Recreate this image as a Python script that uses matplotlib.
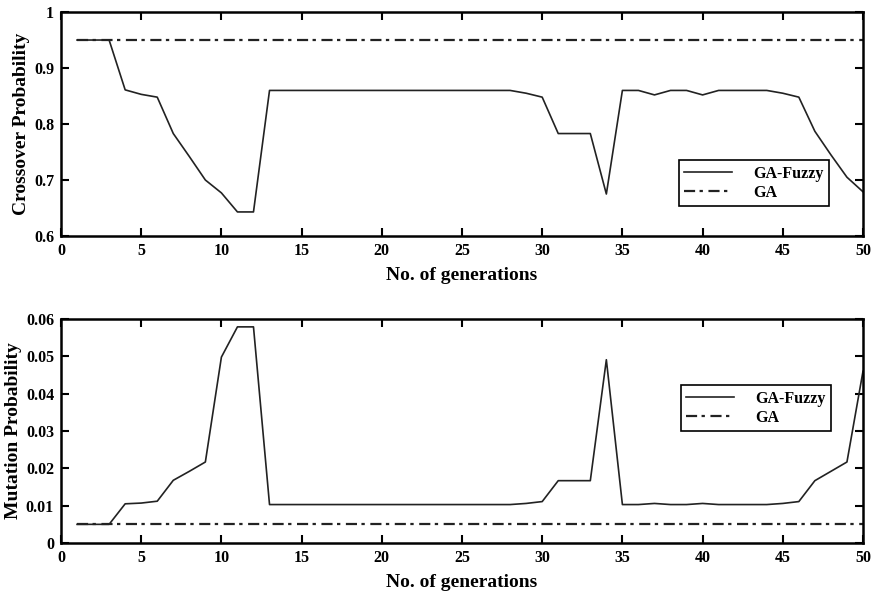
import matplotlib
matplotlib.use("Agg")
import matplotlib.pyplot as plt

generations = list(range(1, 51))
crossover_fuzzy = [0.95, 0.95, 0.95, 0.861, 0.853, 0.848, 0.783, 0.742, 0.70, 0.677,
                   0.643, 0.643, 0.86, 0.86, 0.86, 0.86, 0.86, 0.86, 0.86, 0.86,
                   0.86, 0.86, 0.86, 0.86, 0.86, 0.86, 0.86, 0.86, 0.855, 0.848,
                   0.783, 0.783, 0.783, 0.675, 0.86, 0.86, 0.852, 0.86, 0.86, 0.852,
                   0.86, 0.86, 0.86, 0.86, 0.855, 0.848, 0.787, 0.745, 0.705, 0.679]
crossover_ga = [0.95] * 50
mutation_fuzzy = [0.005, 0.005, 0.005, 0.0105, 0.0107, 0.0112, 0.0168, 0.0192, 0.0217, 0.0498,
                  0.0579, 0.0579, 0.0103, 0.0103, 0.0103, 0.0103, 0.0103, 0.0103, 0.0103, 0.0103,
                  0.0103, 0.0103, 0.0103, 0.0103, 0.0103, 0.0103, 0.0103, 0.0103, 0.0106, 0.0111,
                  0.0167, 0.0167, 0.0167, 0.0491, 0.0103, 0.0103, 0.0106, 0.0103, 0.0103, 0.0106,
                  0.0103, 0.0103, 0.0103, 0.0103, 0.0106, 0.0111, 0.0167, 0.0192, 0.0217, 0.046]
mutation_ga = [0.005] * 50

xticks = [0, 5, 10, 15, 20, 25, 30, 35, 40, 45, 50]
top_yticks = [0.6, 0.7, 0.8, 0.9, 1.0]
top_ylabels = ["0.6", "0.7", "0.8", "0.9", "1"]
bot_yticks = [0, 0.01, 0.02, 0.03, 0.04, 0.05, 0.06]
bot_ylabels = ["0", "0.01", "0.02", "0.03", "0.04", "0.05", "0.06"]

plt.rcParams['font.family'] = ['Liberation Serif', 'DejaVu Serif']
plt.rcParams['font.weight'] = 'bold'

fig = plt.figure(figsize=(8.74, 5.93), dpi=100)
ax1 = fig.add_axes([0.0698, 0.602, 0.9176, 0.3777])
ax2 = fig.add_axes([0.0698, 0.0843, 0.9176, 0.3777])

dashdot = (0, (5, 2, 1.5, 2.5))

def style(ax, yticks, ylabels, ylim, ylabel):
    ax.set_xlim(0, 50)
    ax.set_ylim(*ylim)
    ax.set_xticks(xticks)
    ax.set_xticklabels([str(t) for t in xticks], fontweight='bold')
    ax.set_yticks(yticks)
    ax.set_yticklabels(ylabels, fontweight='bold')
    ax.tick_params(direction='in', length=6, width=1.5, top=True, right=True,
                   labelsize=11.5, pad=5)
    for s in ax.spines.values():
        s.set_linewidth(1.8)
    ax.set_xlabel("No. of generations", fontsize=14, fontweight='bold', labelpad=6)
    ax.set_ylabel(ylabel, fontsize=14, fontweight='bold', labelpad=3)

def add_legend(ax, anchor):
    leg = ax.legend(loc='upper left', bbox_to_anchor=anchor, borderaxespad=0,
                    fancybox=False, edgecolor='black', framealpha=1,
                    prop={'weight': 'bold', 'size': 11.5},
                    handlelength=3.0, borderpad=0.35, labelspacing=0.2,
                    handletextpad=1.3)
    leg.get_frame().set_linewidth(1.2)

ax1.plot(generations, crossover_fuzzy, color='#222222', lw=1.2, label='GA-Fuzzy')
ax1.plot(generations, crossover_ga, color='#222222', lw=1.6, linestyle=dashdot, label='GA')
style(ax1, top_yticks, top_ylabels, (0.6, 1.0), "Crossover Probability")
add_legend(ax1, (0.770, 0.339))

ax2.plot(generations, mutation_fuzzy, color='#222222', lw=1.2, label='GA-Fuzzy')
ax2.plot(generations, mutation_ga, color='#222222', lw=1.6, linestyle=dashdot, label='GA')
style(ax2, bot_yticks, bot_ylabels, (0, 0.06), "Mutation Probability")
add_legend(ax2, (0.7727, 0.705))

fig.savefig("out.png", dpi=100)
